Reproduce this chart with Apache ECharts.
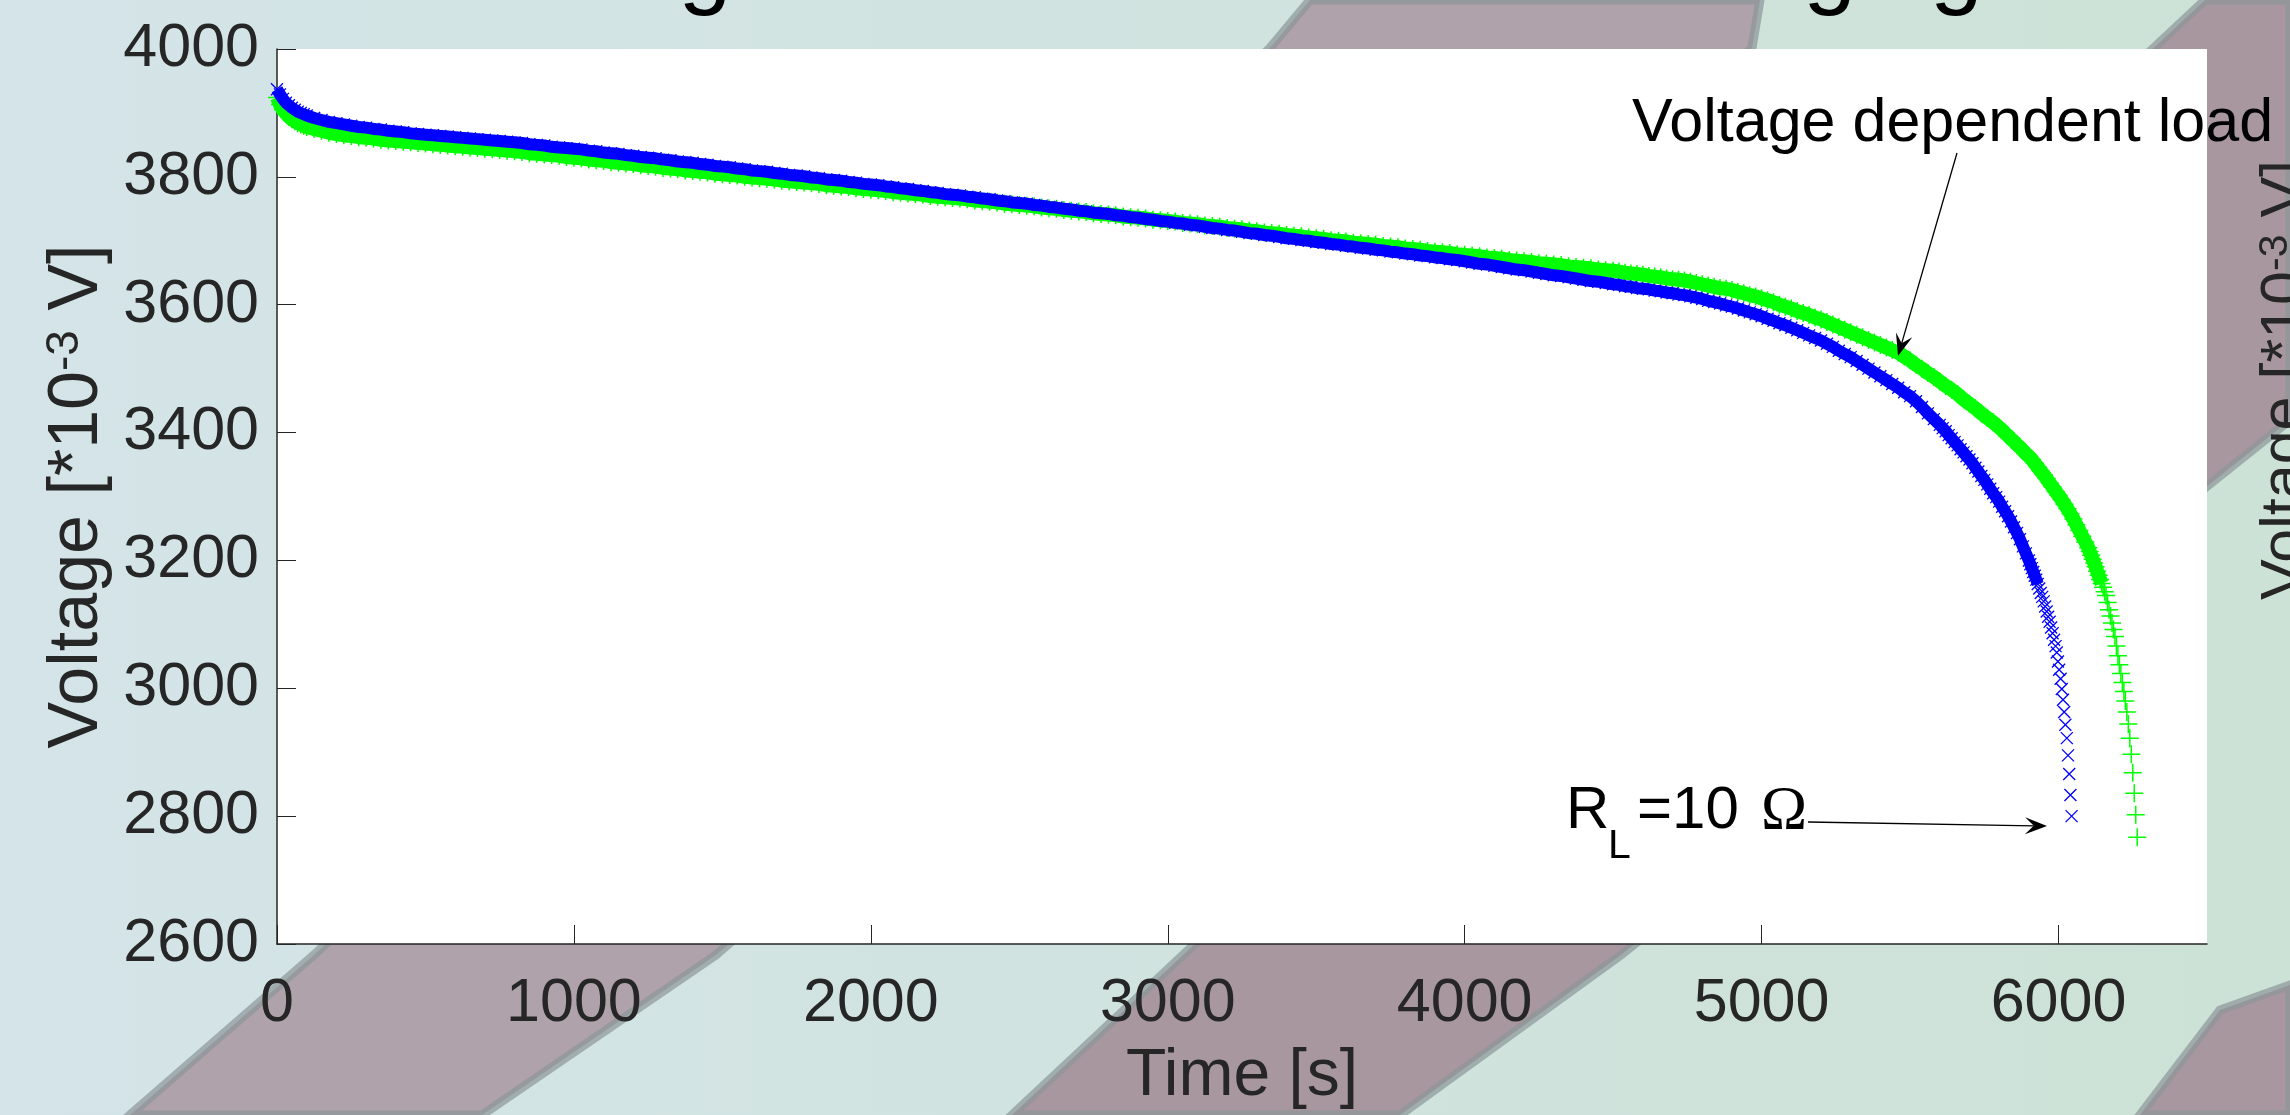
<!DOCTYPE html>
<html>
<head>
<meta charset="UTF-8">
<title>Voltage during discharging</title>
<script src="https://cdn.jsdelivr.net/npm/echarts@6/dist/echarts.min.js"></script>
<style>
  html, body { margin: 0; padding: 0; background: #d0e3df; overflow: hidden; }
  #main { width: 2290px; height: 1115px; }
</style>
</head>
<body>
<div id="main"></div>
<script>
// time [s] / voltage [mV]
// blue x markers: constant load R_L = 10 ohm
var rl10 = [
  [0,3937],[10,3929],[20,3922],[30,3916],[40,3912],[50,3908],[60,3905],[70,3902],[80,3900],[90,3898],[100,3896],
  [125,3892],[150,3889],[175,3886],[200,3884],[225,3882],[250,3880],[275,3878],[300,3877],[325,3875],[350,3874],
  [375,3872],[400,3871],[425,3870],[450,3868],[475,3867],[500,3866],[525,3865],[550,3864],[575,3863],[600,3862],
  [625,3861],[650,3860],[675,3859],[700,3858],[725,3857],[750,3856],[775,3855],[800,3854],[825,3853],[850,3851],
  [875,3850],[900,3849],[925,3847],[950,3846],[975,3845],[1000,3844],
  [1025,3843],[1050,3841],[1075,3840],[1100,3838],[1125,3837],[1150,3836],[1175,3834],[1200,3833],[1225,3831],[1250,3830],
  [1275,3829],[1300,3827],[1325,3826],[1350,3824],[1375,3823],[1400,3822],[1425,3820],[1450,3819],[1475,3817],[1500,3816],
  [1525,3815],[1550,3813],[1575,3812],[1600,3810],[1625,3809],[1650,3808],[1675,3806],[1700,3805],[1725,3803],[1750,3802],
  [1775,3801],[1800,3799],[1825,3798],[1850,3796],[1875,3795],[1900,3794],[1925,3792],[1950,3791],[1975,3789],[2000,3788],
  [2025,3787],[2050,3785],[2075,3784],[2100,3782],[2125,3781],[2150,3779],[2175,3778],[2200,3776],[2225,3775],[2250,3773],
  [2275,3772],[2300,3771],[2325,3769],[2350,3768],[2375,3766],[2400,3765],[2425,3763],[2450,3762],[2475,3760],[2500,3759],
  [2525,3758],[2550,3756],[2575,3755],[2600,3753],[2625,3752],[2650,3750],[2675,3749],[2700,3747],[2725,3746],[2750,3744],
  [2775,3743],[2800,3742],[2825,3740],[2850,3739],[2875,3737],[2900,3736],[2925,3734],[2950,3733],[2975,3731],[3000,3730],
  [3025,3728],[3050,3727],[3075,3725],[3100,3724],[3125,3722],[3150,3720],[3175,3719],[3200,3717],[3225,3716],[3250,3714],
  [3275,3712],[3300,3711],[3325,3709],[3350,3708],[3375,3706],[3400,3704],[3425,3703],[3450,3701],[3475,3700],[3500,3698],
  [3525,3697],[3550,3695],[3575,3694],[3600,3692],[3625,3691],[3650,3689],[3675,3688],[3700,3686],[3725,3685],[3750,3683],
  [3775,3682],[3800,3680],[3825,3679],[3850,3677],[3875,3676],[3900,3674],[3925,3673],[3950,3671],[3975,3670],[4000,3668],
  [4025,3666],[4050,3664],[4075,3663],[4100,3661],[4125,3659],[4150,3657],[4175,3655],[4200,3654],[4225,3652],[4250,3650],
  [4275,3648],[4300,3646],[4325,3645],[4350,3643],[4375,3641],[4400,3639],[4425,3637],[4450,3636],[4475,3634],[4500,3632],
  [4520,3631],[4540,3629],[4560,3628],[4580,3626],[4600,3625],[4620,3624],[4640,3622],[4660,3621],[4680,3619],[4700,3618],
  [4720,3616],[4740,3615],[4760,3613],[4780,3611],[4800,3609],[4820,3606],[4840,3604],[4860,3602],[4880,3599],[4900,3597],
  [4920,3594],[4940,3591],[4960,3588],[4980,3585],[5000,3582],[5020,3578],[5040,3575],[5060,3571],[5080,3568],[5100,3564],
  [5120,3560],[5140,3556],[5160,3552],[5180,3548],[5200,3544],[5220,3539],[5240,3534],[5260,3528],[5280,3523],[5300,3518],
  [5320,3512],[5340,3506],[5360,3500],[5380,3494],[5400,3488],[5420,3482],[5440,3476],[5460,3470],[5480,3463],[5500,3457],
  [5520,3449],[5540,3440],[5560,3430],[5580,3421],[5600,3412],[5610,3407],[5620,3402],[5630,3396],[5640,3391],[5650,3385],
  [5660,3380],[5670,3374],[5680,3369],[5690,3363],[5700,3358],[5710,3352],[5720,3345],[5730,3339],[5740,3332],[5750,3326],
  [5760,3319],[5770,3312],[5780,3305],[5790,3299],[5800,3292],[5810,3284],[5820,3277],[5830,3269],[5840,3261],[5850,3252],
  [5860,3243],[5870,3233],[5880,3222],[5890,3211],[5900,3200],[5905,3194],[5910,3188],[5915,3182],[5920,3176],[5925,3170],
  [5930,3163],[5935,3156],[5940,3149],[5945,3143],[5950,3136],[5955,3128],[5960,3120],[5965,3112],[5970,3104],[5975,3095],
  [5980,3086],[5985,3076],[5990,3066],[5994,3056],[5998,3042],[6002,3029],[6007,3015],[6011,2999],[6015,2982],[6019,2963],
  [6023,2943],[6028,2922],[6032,2895],[6036,2866],[6040,2833],[6044,2800]
];

// green + markers: voltage dependent load
var vdl = [
  [0,3924],[10,3913],[20,3905],[30,3899],[40,3894],[50,3890],[60,3887],[70,3884],[80,3882],[90,3880],[100,3878],
  [125,3875],[150,3872],[175,3869],[200,3867],[225,3865],[250,3864],[275,3862],[300,3861],[325,3860],[350,3858],
  [375,3857],[400,3856],[425,3855],[450,3854],[475,3853],[500,3852],[525,3851],[550,3850],[575,3849],[600,3848],
  [625,3847],[650,3846],[675,3845],[700,3844],[725,3843],[750,3842],[775,3841],[800,3840],[825,3839],[850,3837],
  [875,3836],[900,3835],[925,3834],[950,3833],[975,3831],[1000,3830],
  [1025,3829],[1050,3827],[1075,3826],[1100,3825],[1125,3823],[1150,3822],[1175,3821],[1200,3820],[1225,3818],[1250,3817],
  [1275,3816],[1300,3814],[1325,3813],[1350,3812],[1375,3810],[1400,3809],[1425,3808],[1450,3807],[1475,3805],[1500,3804],
  [1525,3803],[1550,3802],[1575,3800],[1600,3799],[1625,3798],[1650,3797],[1675,3796],[1700,3794],[1725,3793],[1750,3792],
  [1775,3791],[1800,3790],[1825,3789],[1850,3787],[1875,3786],[1900,3785],[1925,3784],[1950,3782],[1975,3781],[2000,3780],
  [2025,3779],[2050,3778],[2075,3776],[2100,3775],[2125,3774],[2150,3773],[2175,3772],[2200,3770],[2225,3769],[2250,3768],
  [2275,3767],[2300,3766],[2325,3765],[2350,3763],[2375,3762],[2400,3761],[2425,3760],[2450,3758],[2475,3757],[2500,3756],
  [2525,3755],[2550,3754],[2575,3752],[2600,3751],[2625,3750],[2650,3748],[2675,3747],[2700,3746],[2725,3745],[2750,3743],
  [2775,3742],[2800,3741],[2825,3740],[2850,3738],[2875,3737],[2900,3736],[2925,3735],[2950,3733],[2975,3732],[3000,3731],
  [3025,3730],[3050,3728],[3075,3727],[3100,3726],[3125,3724],[3150,3723],[3175,3722],[3200,3720],[3225,3719],[3250,3718],
  [3275,3716],[3300,3715],[3325,3713],[3350,3712],[3375,3711],[3400,3709],[3425,3708],[3450,3707],[3475,3705],[3500,3704],
  [3525,3703],[3550,3701],[3575,3700],[3600,3699],[3625,3697],[3650,3696],[3675,3695],[3700,3694],[3725,3692],[3750,3691],
  [3775,3690],[3800,3688],[3825,3687],[3850,3686],[3875,3684],[3900,3683],[3925,3682],[3950,3681],[3975,3679],[4000,3678],
  [4025,3677],[4050,3676],[4075,3674],[4100,3673],[4125,3672],[4150,3670],[4175,3669],[4200,3668],[4225,3667],[4250,3665],
  [4275,3664],[4300,3663],[4325,3662],[4350,3660],[4375,3659],[4400,3658],[4425,3657],[4450,3655],[4475,3654],[4500,3653],
  [4520,3652],[4540,3650],[4560,3649],[4580,3648],[4600,3647],[4620,3645],[4640,3644],[4660,3643],[4680,3641],[4700,3640],
  [4720,3639],[4740,3638],[4760,3636],[4780,3634],[4800,3632],[4820,3630],[4840,3628],[4860,3626],[4880,3625],[4900,3623],
  [4920,3620],[4940,3618],[4960,3615],[4980,3613],[5000,3610],[5020,3607],[5040,3604],[5060,3600],[5080,3597],[5100,3594],
  [5120,3590],[5140,3587],[5160,3584],[5180,3580],[5200,3577],[5220,3573],[5240,3569],[5260,3565],[5280,3561],[5300,3557],
  [5320,3553],[5340,3549],[5360,3545],[5380,3541],[5400,3537],[5420,3533],[5440,3529],[5460,3525],[5480,3519],[5500,3513],
  [5520,3506],[5540,3500],[5560,3493],[5580,3487],[5600,3480],[5620,3473],[5640,3467],[5660,3460],[5680,3452],[5700,3445],
  [5720,3438],[5740,3430],[5760,3423],[5780,3416],[5800,3408],[5810,3404],[5820,3399],[5830,3395],[5840,3390],[5850,3386],
  [5860,3381],[5870,3377],[5880,3372],[5890,3367],[5900,3363],[5910,3358],[5920,3352],[5930,3346],[5940,3340],[5950,3334],
  [5960,3328],[5970,3321],[5980,3315],[5990,3308],[6000,3302],[6010,3295],[6020,3288],[6030,3281],[6040,3273],[6050,3265],
  [6060,3256],[6070,3247],[6080,3238],[6090,3229],[6100,3220],[6105,3214],[6110,3208],[6115,3202],[6120,3196],[6125,3190],
  [6130,3183],[6135,3177],[6140,3170],[6145,3164],[6150,3158],[6155,3151],[6160,3145],[6165,3134],[6170,3123],[6175,3113],
  [6180,3102],[6185,3092],[6190,3081],[6195,3066],[6200,3051],[6205,3037],[6210,3023],[6215,3009],[6220,2995],[6225,2980],
  [6230,2963],[6235,2944],[6240,2922],[6245,2897],[6250,2868],[6255,2836],[6260,2802],[6265,2767]
];

var xTicks = [0, 1000, 2000, 3000, 4000, 5000, 6000];

var FONT = '"Liberation Sans", Arial, Helvetica, sans-serif';
var INK = '#262626';

// the markers overlap into a solid band until they start to separate near the end
function densePart(pts) {
  return pts.filter(function (p) { return p[1] > 3160; });
}

// arrow: line + notched head, in pixels
function arrow(x1, y1, x2, y2) {
  var dx = x2 - x1, dy = y2 - y1;
  var d = Math.sqrt(dx * dx + dy * dy);
  var ux = dx / d, uy = dy / d, nx = -uy, ny = ux;
  var L = 22, W = 8.5;
  var bx = x2 - ux * L, by = y2 - uy * L;
  var mx = x2 - ux * L * 0.6, my = y2 - uy * L * 0.6;
  return [
    { type: 'line', z: 50, shape: { x1: x1, y1: y1, x2: mx, y2: my }, style: { stroke: '#000', lineWidth: 1.3 } },
    { type: 'polygon', z: 50, shape: { points: [[x2, y2], [bx + nx * W, by + ny * W], [mx, my], [bx - nx * W, by - ny * W]] },
      style: { fill: '#000' } }
  ];
}

var bg = [
  { type: 'rect', z: -20, shape: { x: 0, y: 0, width: 2290, height: 1115 },
    style: { fill: { type: 'linear', x: 0, y: 0, x2: 1, y2: 0,
      colorStops: [{ offset: 0, color: '#d4e4e8' }, { offset: 1, color: '#cde2d6' }] } } },
  { type: 'polygon', z: -15, shape: { points: [[130,1115],[314,955],[1270,48],[1310,0],[1760,0],[1752,48],[716,955],[482,1115]] },
    style: { fill: '#b0a2ab', stroke: 'rgba(140,150,152,0.7)', lineWidth: 9 } },
  { type: 'polygon', z: -15, shape: { points: [[1012,1115],[1183,955],[2205,0],[2290,0],[2290,420],[1621,955],[1400,1115]] },
    style: { fill: '#a8979f', stroke: 'rgba(140,150,152,0.7)', lineWidth: 9 } },
  { type: 'polygon', z: -15, shape: { points: [[2140,1115],[2220,1010],[2290,985],[2290,1115]] },
    style: { fill: '#a8979f', stroke: 'rgba(140,150,152,0.7)', lineWidth: 9 } }
];

var notes = [
  // title, only its descenders reach into the picture
  { type: 'text', z: 50, x: 1225, y: -30,
    style: { text: 'Voltage of the cell when discharging', fontSize: 95, fontFamily: FONT, fill: '#000',
      align: 'center', verticalAlign: 'middle' } },
  { type: 'text', z: 50, x: 1632, y: 124,
    style: { text: 'Voltage dependent load', fontSize: 61, fontFamily: FONT, fill: '#000',
      align: 'left', verticalAlign: 'middle' } },
  { type: 'text', z: 50, x: 1566, y: 811,
    style: { text: 'R', fontSize: 60, fontFamily: FONT, fill: '#000', align: 'left', verticalAlign: 'middle' } },
  { type: 'text', z: 50, x: 1608, y: 847,
    style: { text: 'L', fontSize: 41, fontFamily: FONT, fill: '#000', align: 'left', verticalAlign: 'middle' } },
  { type: 'text', z: 50, x: 1637, y: 811,
    style: { text: '=10', fontSize: 60, fontFamily: FONT, fill: '#000', align: 'left', verticalAlign: 'middle' } },
  { type: 'text', z: 50, x: 1761, y: 812,
    style: { text: '\u03A9', fontSize: 62, fontFamily: '"Liberation Serif", "Times New Roman", serif', fill: '#000',
      align: 'left', verticalAlign: 'middle' } },
  // label of the neighbouring panel, cut by the right edge
  { type: 'text', z: 50, x: 2286, y: 380, rotation: Math.PI / 2,
    style: { text: '{t|Voltage [*10}{s|-3}{t| V]}', align: 'center', verticalAlign: 'middle',
      rich: { t: { fontSize: 61, fontFamily: FONT, fill: INK }, s: { fontSize: 41, fontFamily: FONT, fill: INK, verticalAlign: 'top' } } } }
].concat(arrow(1957, 153, 1898, 356), arrow(1808, 822, 2047, 826));

var chart = echarts.init(document.getElementById('main'), null, { renderer: 'canvas' });
chart.setOption({
  animation: false,
  backgroundColor: 'transparent',
  grid: { left: 277, top: 49, width: 1930, height: 905, show: true, backgroundColor: '#ffffff', borderWidth: 0 },
  xAxis: {
    type: 'value', min: 0, max: 6500, interval: 1000,
    name: 'Time [s]', nameLocation: 'middle', nameGap: 100,
    nameTextStyle: { fontSize: 66, fontFamily: FONT, color: INK },
    axisLine: { show: true, onZero: false, lineStyle: { color: INK, width: 1.5 } },
    axisTick: { show: true, inside: true, length: 19, customValues: xTicks, lineStyle: { color: INK, width: 1 } },
    axisLabel: { customValues: xTicks, fontSize: 61, fontFamily: FONT, color: INK, margin: 30,
      formatter: function (v) { return String(v); } },
    splitLine: { show: false }
  },
  yAxis: {
    type: 'value', min: 2600, max: 4000, interval: 200,
    name: '{t|Voltage [*10}{s|-3}{t| V]}', nameLocation: 'middle', nameGap: 141,
    nameTextStyle: { fontSize: 70, fontFamily: FONT, color: INK,
      rich: { t: { fontSize: 70, fontFamily: FONT, color: INK }, s: { fontSize: 46, fontFamily: FONT, color: INK, verticalAlign: 'top' } } },
    axisLine: { show: true, lineStyle: { color: INK, width: 1.5 } },
    axisTick: { show: true, inside: true, length: 19, lineStyle: { color: INK, width: 1 } },
    axisLabel: { fontSize: 61, fontFamily: FONT, color: INK, margin: 18,
      formatter: function (v) { return String(v); } },
    splitLine: { show: false }
  },
  graphic: { elements: bg.concat(notes) },
  series: [
    {
      type: 'line', data: densePart(vdl), showSymbol: false, silent: true,
      lineStyle: { color: '#00ff00', width: 14 }, emphasis: { disabled: true }
    },
    {
      name: 'Voltage dependent load', type: 'scatter', data: vdl,
      symbol: 'path://M5,0L5,10M0,5L10,5', symbolSize: 18,
      itemStyle: { color: 'rgba(0,0,0,0)', borderColor: '#00ff00', borderWidth: 1.5, opacity: 1 },
      emphasis: { disabled: true }, silent: true
    },
    {
      type: 'line', data: densePart(rl10), showSymbol: false, silent: true,
      lineStyle: { color: '#0000ff', width: 12 }, emphasis: { disabled: true }
    },
    {
      name: 'R_L = 10 Ohm', type: 'scatter', data: rl10,
      symbol: 'path://M0,0L10,10M0,10L10,0', symbolSize: 12,
      itemStyle: { color: 'rgba(0,0,0,0)', borderColor: '#0000ff', borderWidth: 1.3, opacity: 1 },
      emphasis: { disabled: true }, silent: true
    }
  ]
});
</script>
</body>
</html>
